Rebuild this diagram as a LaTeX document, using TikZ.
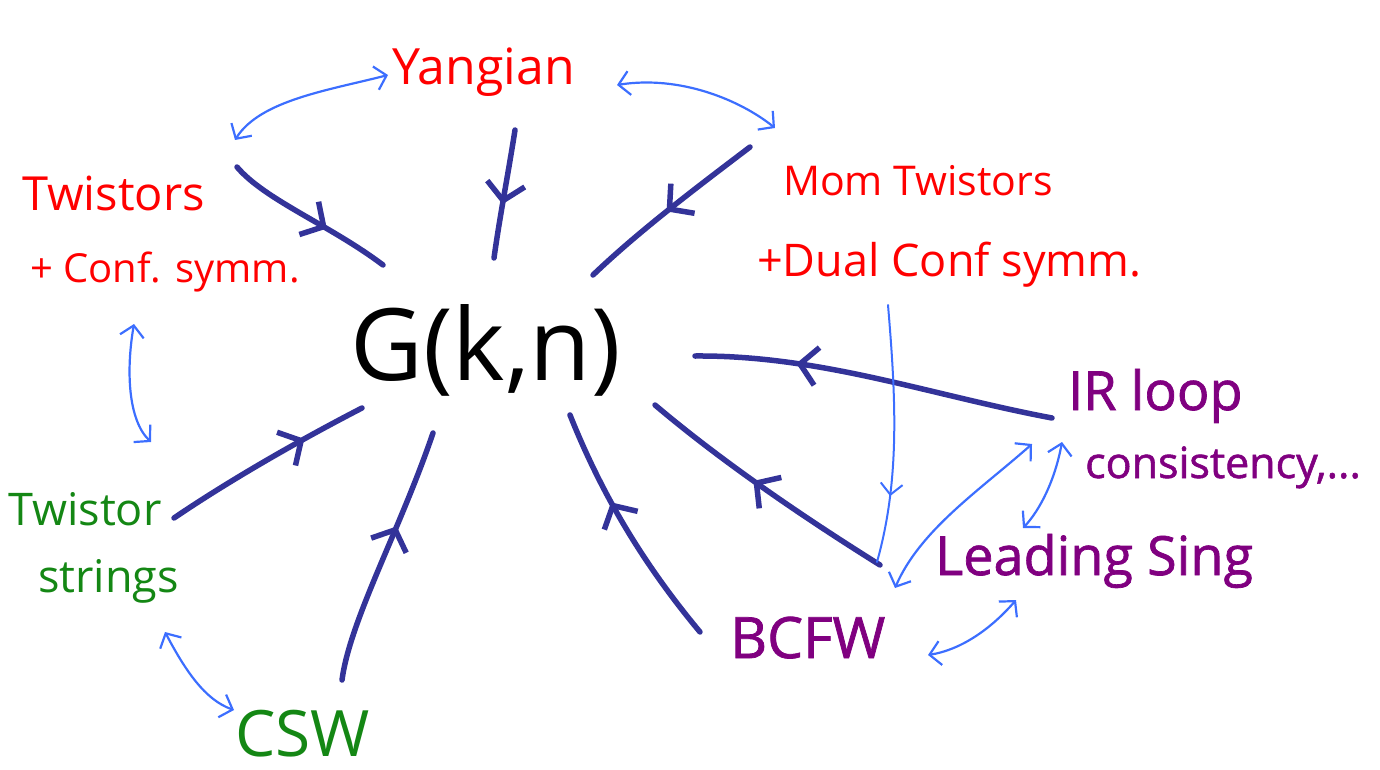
\documentclass[tikz,border=0pt]{standalone}
\usepackage{fontspec}
\setmainfont{Open Sans}
\newfontfamily\thickink[FakeBold=1.3]{Open Sans}
\usetikzlibrary{arrows.meta,decorations.markings}

\definecolor{inkred}{RGB}{255,0,0}
\definecolor{inkgreen}{RGB}{20,135,20}
\definecolor{inkpurple}{RGB}{128,0,128}
\definecolor{inknavy}{RGB}{51,51,153}
\definecolor{inksky}{RGB}{60,110,255}

\tikzset{
  flow/.style={draw=inknavy, line width=5.5pt, line cap=round,
    postaction={decorate},
    decoration={markings, mark=at position #1 with
      {\arrow{Straight Barb[length=17pt,width=38pt,line width=5.5pt]}}}},
  flow/.default=0.5,
  link/.style={draw=inksky, line width=2.2pt, line cap=round,
    {Straight Barb[length=11pt,width=24pt]}-{Straight Barb[length=11pt,width=24pt]}},
  oneway/.style={draw=inksky, line width=2pt, line cap=round,
    postaction={decorate},
    decoration={markings, mark=at position #1 with
      {\arrow{Straight Barb[length=11pt,width=22pt,line width=2pt]}}}},
  oneway/.default=0.75,
  lbl/.style={inner sep=0pt, anchor=base west},
  redtxt/.style={lbl, text=inkred, font=\fontsize{42}{42}\selectfont},
  greentxt/.style={lbl, text=inkgreen, font=\fontsize{45}{45}\selectfont},
  purpletxt/.style={lbl, text=inkpurple, font=\fontsize{54}{54}\thickink},
}

\begin{document}
\begin{tikzpicture}[x=1pt, y=-1pt]
  \useasboundingbox (0,0) rectangle (1380,770);

  % centre
  \node[lbl, font=\fontsize{100}{100}\selectfont] (gkn) at (350,380) {G(k,n)};

  % labels
  \node[redtxt, font=\fontsize{50}{50}\selectfont] (yangian) at (392,85) {Yangian};
  \node[redtxt, font=\fontsize{47}{47}\selectfont] (twistors) at (22,210) {Twistors};
  \node[redtxt, font=\fontsize{40}{40}\selectfont] (confsym) at (30,282) {+ Conf. symm.};
  \node[redtxt, font=\fontsize{41}{41}\selectfont] (momtw) at (783,195) {Mom Twistors};
  \node[redtxt, font=\fontsize{45}{45}\selectfont] (dualconf) at (757,276) {+Dual Conf symm.};
  \node[greentxt] (tstr) at (8,525) {Twistor};
  \node[greentxt] (tstr2) at (38,592) {strings};
  \node[greentxt, font=\fontsize{64}{64}\selectfont] (csw) at (235,756) {CSW};
  \node[purpletxt, font=\fontsize{57}{57}\thickink] (bcfw) at (730,658) {BCFW};
  \node[purpletxt] (lsing) at (935,575) {Leading Sing};
  \node[purpletxt] (irloop) at (1068,410) {IR loop};
  \node[purpletxt, font=\fontsize{43}{43}\thickink] (consist) at (1085,478) {consistency,...};

  % connector end points
  \coordinate (twA) at (237,167);   \coordinate (twB) at (383,265);
  \coordinate (yaA) at (515,130);   \coordinate (yaB) at (494,258);
  \coordinate (moA) at (750,147);   \coordinate (moB) at (593,275);
  \coordinate (irA) at (1052,418);  \coordinate (irB) at (695,356);
  \coordinate (lsA) at (880,565);   \coordinate (lsB) at (655,405);
  \coordinate (bcA) at (700,632);   \coordinate (bcB) at (570,415);
  \coordinate (csA) at (342,680);   \coordinate (csB) at (433,433);
  \coordinate (tsA) at (174,518);   \coordinate (tsB) at (362,408);

  % flows into G(k,n)
  \draw[flow=0.62] (twA) .. controls (265,200) and (330,225) .. (twB);
  \draw[flow=0.58] (yaA) .. controls (508,175) and (500,215) .. (yaB);
  \draw[flow=0.52] (moA) .. controls (700,185) and (640,230) .. (moB);
  \draw[flow=0.72] (irA) .. controls (930,395) and (820,355) .. (irB);
  \draw[flow=0.55] (lsA) .. controls (800,515) and (720,460) .. (lsB);
  \draw[flow=0.62] (bcA) .. controls (640,560) and (600,490) .. (bcB);
  \draw[flow=0.62] (csA) .. controls (350,620) and (400,530) .. (csB);
  \draw[flow=0.70] (tsA) .. controls (230,480) and (300,440) .. (tsB);

  % relations between approaches
  \coordinate (r1a) at (235,140);  \coordinate (r1b) at (388,75);
  \coordinate (r2a) at (617,85);   \coordinate (r2b) at (775,128);
  \coordinate (r3a) at (134,324);  \coordinate (r3b) at (151,442);
  \coordinate (r4a) at (165,632);  \coordinate (r4b) at (234,710);
  \coordinate (r5a) at (895,588);  \coordinate (r5b) at (1032,444);
  \coordinate (r6a) at (1062,442); \coordinate (r6b) at (1023,528);
  \coordinate (r7a) at (928,655);  \coordinate (r7b) at (1016,600);
  \coordinate (dcA) at (888,305);  \coordinate (dcB) at (877,562);

  \draw[link] (r1a) .. controls (260,100) and (330,90) .. (r1b);
  \draw[link] (r2a) .. controls (680,75) and (740,100) .. (r2b);
  \draw[link] (r3a) .. controls (126,370) and (128,420) .. (r3b);
  \draw[link] (r4a) .. controls (185,670) and (205,700) .. (r4b);
  \draw[link] (r5a) .. controls (920,530) and (980,490) .. (r5b);
  \draw[link] (r6a) .. controls (1055,480) and (1040,510) .. (r6b);
  \draw[link] (r7a) .. controls (960,650) and (990,630) .. (r7b);
  \draw[oneway=0.74] (dcA) .. controls (896,400) and (900,480) .. (dcB);
\end{tikzpicture}
\end{document}
